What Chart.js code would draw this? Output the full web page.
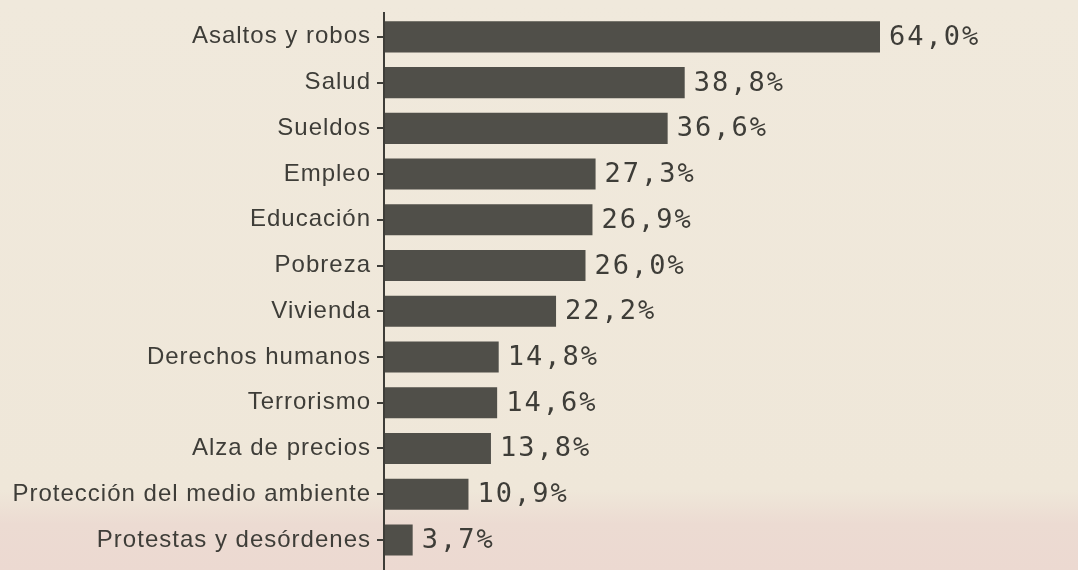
<!DOCTYPE html>
<html>
<head>
<meta charset="utf-8">
<script src="https://cdn.jsdelivr.net/npm/chart.js@4/dist/chart.umd.min.js"></script>
<style>
    html, body { margin: 0; padding: 0; }
    body { background: linear-gradient(to bottom, #f0e9dc 0%, #efe7d9 86%, #ecdbd2 92%, #ecd9d1 100%); }
    #wrap { position: relative; width: 1078px; height: 570px; }
</style>
</head>
<body>
<div id="wrap"><canvas id="chart"></canvas></div>
<script>
    const categories = [
        'Asaltos y robos', 'Salud', 'Sueldos', 'Empleo', 'Educación', 'Pobreza',
        'Vivienda', 'Derechos humanos', 'Terrorismo', 'Alza de precios',
        'Protección del medio ambiente', 'Protestas y desórdenes'
    ];
    const percentages = [64.0, 38.8, 36.6, 27.3, 26.9, 26.0, 22.2, 14.8, 14.6, 13.8, 10.9, 3.7];

    const inkColor = '#3e3d38';
    const barColor = '#504f49';

    // value labels like "64,0%" to the right of each bar
    const valueLabels = {
        id: 'valueLabels',
        afterDatasetsDraw(chart) {
            const ctx = chart.ctx;
            const meta = chart.getDatasetMeta(0);
            ctx.save();
            ctx.font = '27px "DejaVu Sans Mono"';
            ctx.letterSpacing = '2px';
            ctx.fillStyle = inkColor;
            ctx.textAlign = 'left';
            ctx.textBaseline = 'middle';
            meta.data.forEach((bar, i) => {
                const txt = percentages[i].toFixed(1).replace('.', ',') + '%';
                ctx.fillText(txt, bar.x + 9, bar.y + 1);
            });
            ctx.restore();
        }
    };

    // the vertical axis runs a little past the bars, top and bottom
    const axisLine = {
        id: 'axisLine',
        beforeDraw(chart) {
            chart.ctx.letterSpacing = '1px';
        },
        afterDraw(chart) {
            const ctx = chart.ctx;
            const x = chart.chartArea.left;
            ctx.save();
            ctx.strokeStyle = inkColor;
            ctx.lineWidth = 2;
            ctx.beginPath();
            ctx.moveTo(x, 12);
            ctx.lineTo(x, chart.height);
            ctx.stroke();
            ctx.restore();
        }
    };

    new Chart(document.getElementById('chart'), {
        type: 'bar',
        data: {
            labels: categories,
            datasets: [{
                data: percentages,
                backgroundColor: barColor,
                borderWidth: 0,
                barPercentage: 0.68,
                categoryPercentage: 1
            }]
        },
        options: {
            indexAxis: 'y',
            responsive: true,
            maintainAspectRatio: false,
            animation: false,
            layout: { padding: { top: 14, bottom: 0, left: 0, right: 74 } },
            plugins: { legend: { display: false }, tooltip: { enabled: false } },
            scales: {
                x: { display: false, min: 0, max: 80 },
                y: {
                    afterFit: (scale) => { scale.width = 384; },
                    border: { display: true, color: inkColor, width: 2 },
                    grid: { offset: false, drawOnChartArea: false, drawTicks: true, tickLength: 7, color: inkColor, lineWidth: 2 },
                    ticks: {
                        color: inkColor,
                        padding: 6,
                        font: { family: '"Liberation Sans", Arial, sans-serif', size: 24, lineHeight: 0.1 }
                    }
                }
            }
        },
        plugins: [valueLabels, axisLine]
    });
</script>
</body>
</html>
